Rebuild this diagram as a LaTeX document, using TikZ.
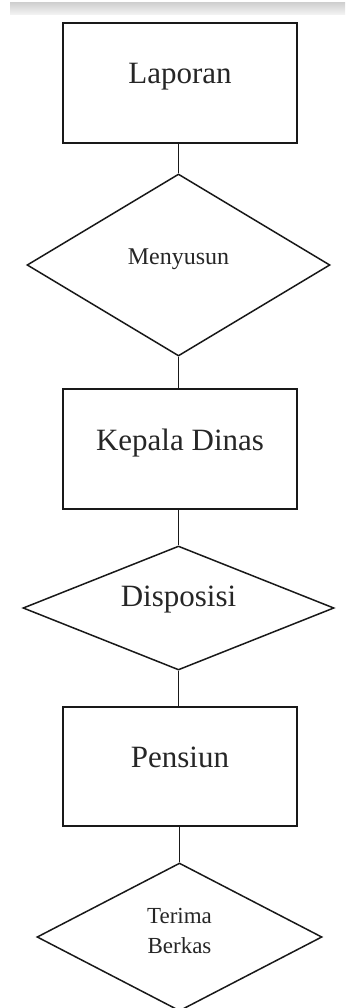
\documentclass[tikz,border=0pt]{standalone}
\usepackage{fontspec}
\setmainfont{Liberation Serif}
\usetikzlibrary{shapes.geometric}
\begin{document}
\begin{tikzpicture}[x=1pt,y=-1pt,
  box/.style={draw=black!90,line width=1.5pt,rectangle,minimum width=234pt,minimum height=120pt,inner sep=0pt},
  dia/.style={draw=black!90,line width=1.5pt,diamond,inner sep=0pt},
  txt/.style={text=black!85},
  conn/.style={draw=black!90,line width=1.5pt}]
\useasboundingbox (0,0) rectangle (345,1008);
\shade[top color=black!18,bottom color=black!4] (10,3) rectangle (345,15);
% rectangles
\node[box,label={[txt,font=\fontsize{31}{36}\selectfont,yshift=6pt]center:Laporan}] (r1) at (180,83) {};
\node[box,label={[txt,font=\fontsize{31}{36}\selectfont,yshift=6pt]center:Kepala Dinas}] (r2) at (180,449) {};
\node[box,minimum height=119pt,label={[txt,font=\fontsize{31}{36}\selectfont,yshift=9pt]center:Pensiun}] (r3) at (180,766.5) {};
% diamonds
\node[dia,minimum width=303pt,minimum height=182pt,aspect=1.66,label={[txt,font=\fontsize{24}{28}\selectfont,yshift=6pt]center:Menyusun}] (d1) at (178.5,265) {};
\node[dia,minimum width=311pt,minimum height=124pt,aspect=2.5,label={[txt,font=\fontsize{31}{36}\selectfont,yshift=8pt]center:Disposisi}] (d2) at (178.5,608) {};
\node[dia,minimum width=285pt,minimum height=148pt,aspect=1.93,label={[txt,align=center,font=\fontsize{23}{30}\selectfont,yshift=6pt]center:Terima\\Berkas}] (d3) at (179.5,937) {};
% connectors
\draw[conn] (d1.north |- r1.south) -- (d1.north);
\draw[conn] (d1.south) -- (d1.south |- r2.north);
\draw[conn] (d2.north |- r2.south) -- (d2.north);
\draw[conn] (d2.south) -- (d2.south |- r3.north);
\draw[conn] (d3.north |- r3.south) -- (d3.north);
\end{tikzpicture}
\end{document}
